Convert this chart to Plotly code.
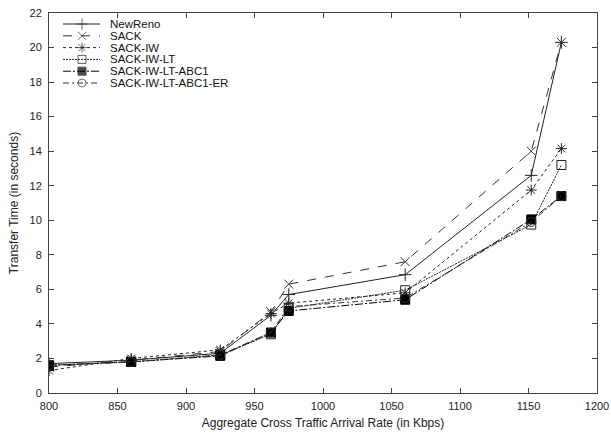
import plotly.graph_objects as go

x_rate = [800, 860, 925, 962, 975, 1060, 1152, 1174]

newreno = [1.7, 1.9, 2.3, 4.5, 5.7, 6.85, 12.6, 20.3]
sack = [1.5, 1.9, 2.4, 4.7, 6.3, 7.6, 14.0, 20.3]
sack_iw = [1.3, 2.0, 2.5, 4.6, 5.2, 5.8, 11.75, 14.15]
sack_iw_lt = [1.6, 1.8, 2.2, 3.4, 4.9, 5.95, 9.75, 13.2]
sack_iw_lt_abc1 = [1.6, 1.8, 2.15, 3.5, 4.75, 5.4, 10.05, 11.4]
sack_iw_lt_abc1_er = [1.6, 1.8, 2.2, 3.5, 5.0, 5.5, 9.9, 11.4]

series_names = ["NewReno", "SACK", "SACK-IW", "SACK-IW-LT",
                "SACK-IW-LT-ABC1", "SACK-IW-LT-ABC1-ER"]
series_values = [newreno, sack, sack_iw, sack_iw_lt, sack_iw_lt_abc1, sack_iw_lt_abc1_er]

styles = [
    ("solid", "cross-thin-open", "#222"),
    ("dash", "x-thin-open", "#333"),
    ("dot", "asterisk-open", "#222"),
    ("2px,1px", "square-open", "#222"),
    ("8px,2px,2px,2px", "square", "#000"),
    ("6px,3px,2px,3px", "circle-open", "#333"),
]

FONT = "Liberation Sans, Arial, sans-serif"

fig = go.Figure()
for name, ys, (dash, sym, col) in zip(series_names, series_values, styles):
    fig.add_trace(go.Scatter(
        x=x_rate, y=ys, name=name, mode="lines+markers", showlegend=False,
        line=dict(color=col, width=1, dash=dash),
        marker=dict(symbol=sym, size=9, color=col, line=dict(color=col, width=1)),
    ))

# hand-drawn compact legend on an overlay axis measured in plot pixels
leg_row0, leg_gap = 11, 11.8
leg_x0, leg_x1, leg_mx, leg_tx = 14, 51, 33, 59
for i, (name, (dash, sym, col)) in enumerate(zip(series_names, styles)):
    yy = leg_row0 + leg_gap * i
    fig.add_trace(go.Scatter(
        x=[leg_x0, leg_mx, leg_x1], y=[yy, yy, yy], xaxis="x2", yaxis="y2",
        mode="lines+markers", showlegend=False, hoverinfo="skip",
        line=dict(color=col, width=1, dash=dash),
        marker=dict(symbol=sym, size=[0, 8, 0], color=col,
                    line=dict(color=col, width=1)),
    ))
    fig.add_annotation(x=leg_tx, y=yy, xref="x2", yref="y2", text=name,
                       showarrow=False, xanchor="left", yanchor="middle",
                       font=dict(family=FONT, size=11.5, color="#111"))

axis_common = dict(
    showline=True, linecolor="#444", linewidth=1, mirror="ticks",
    ticks="inside", ticklen=5, tickcolor="#444", showgrid=False, zeroline=False,
    automargin=False,
    tickfont=dict(family=FONT, size=11, color="#222"),
)

fig.update_layout(
    width=611, height=435,
    margin=dict(l=49, r=14, t=13, b=42),
    paper_bgcolor="white", plot_bgcolor="white",
    font=dict(family=FONT, size=11, color="#222"),
    showlegend=False,
    xaxis=dict(range=[800, 1200], tickvals=list(range(800, 1201, 50)),
               ticklabelstandoff=3,
               title=dict(text="Aggregate Cross Traffic Arrival Rate (in Kbps)",
                          font=dict(size=12), standoff=7),
               **axis_common),
    yaxis=dict(range=[0, 22], tickvals=list(range(0, 23, 2)),
               ticklabelstandoff=4,
               title=dict(text="Transfer Time (in seconds)", font=dict(size=12), standoff=8),
               **axis_common),
    xaxis2=dict(overlaying="x", range=[0, 548], visible=False, fixedrange=True),
    yaxis2=dict(overlaying="y", range=[380, 0], visible=False, fixedrange=True),
)

fig.write_html("out.html", config={"displayModeBar": False},
               post_script="document.body.style.margin='0';")
